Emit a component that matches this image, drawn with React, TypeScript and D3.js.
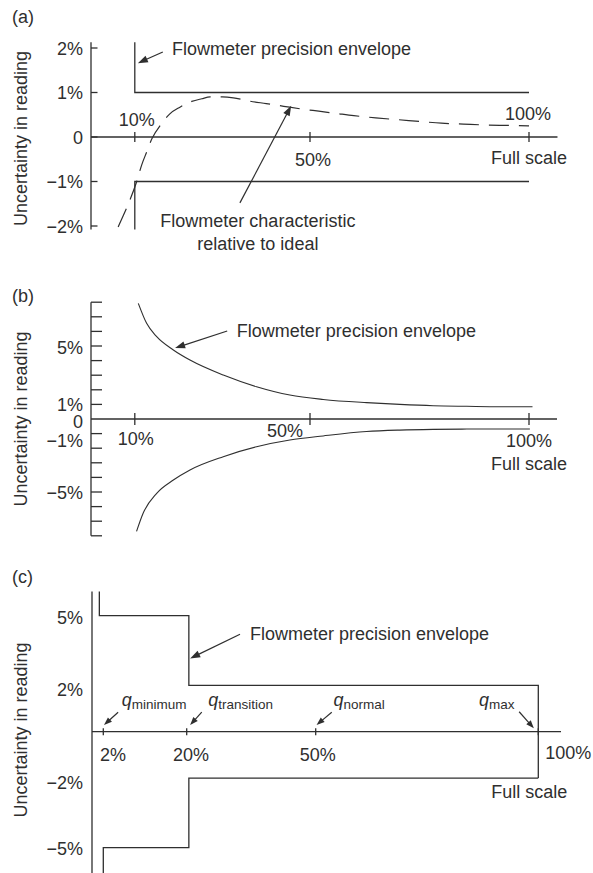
import React from 'react';
import * as d3 from 'd3';

const FONT = '"Liberation Sans", Arial, Helvetica, sans-serif';
const INK = '#2f2f2f';
const FS = 18;

// ---------- Panel (a) ----------
const aYTicks = [2, 1, 0, -1, -2];
const aYTickLabels = ['2%', '1%', '0', '−1%', '−2%'];
const aYAxisExtent = [-2.08, 2.13];
const aXTicks = [10, 50, 100];
const aXAxisEnd = 106.5;
const aEnvelopeUpper: [number, number][] = [[10, 2.13], [10, 1], [100, 1]];
const aEnvelopeLower: [number, number][] = [[10, -2.08], [10, -1], [100, -1]];
const aCharPct = [6.2, 7.4, 9.3, 10.4, 11.6, 12.7, 13.9, 16.1, 18, 20.3, 23, 25.3, 27.2, 30, 32.5, 36, 40, 44, 48, 52, 56, 60, 65, 70, 75, 80, 85, 90, 95, 100];
const aCharErr = [-2.02, -1.76, -1.31, -1.01, -0.62, -0.34, -0.04, 0.3, 0.52, 0.67, 0.8, 0.86, 0.9, 0.9, 0.88, 0.81, 0.75, 0.69, 0.63, 0.58, 0.53, 0.48, 0.43, 0.39, 0.35, 0.31, 0.29, 0.27, 0.26, 0.25];

// ---------- Panel (b) ----------
const bYTicks = [8, 7, 6, 5, 4, 3, 2, 1, -1, -2, -3, -4, -5, -6, -7, -8];
const bYLabels = ['5%', '1%', '0', '−1%', '−5%'];
const bYLabelValues = [5, 1, 0, -1, -5];
const bYLabelDy = [8, 7, 9, 13, 7];
const bYAxisExtent = [-8, 8];
const bXTicks = [10, 50, 100];
const bXAxisEnd = 106.4;
const bUpperPct = [10.8, 12.7, 15, 18.8, 22.6, 30.2, 37.8, 45.4, 53, 62.9, 70.5, 78.1, 85.8, 93.4, 100.8];
const bUpperErr = [7.92, 6.55, 5.64, 4.73, 4.04, 3.01, 2.21, 1.64, 1.34, 1.12, 1.0, 0.91, 0.87, 0.84, 0.84];
const bLowerPct = [10.4, 11.9, 15, 18.8, 22.6, 30.2, 37.8, 45.4, 53, 62.9, 70.5, 78.1, 85.8, 93.4, 100.2];
const bLowerErr = [-7.7, -6.46, -5.09, -4.18, -3.49, -2.58, -1.9, -1.44, -1.16, -0.86, -0.76, -0.71, -0.69, -0.68, -0.68];

// ---------- Panel (c) ----------
const cXDomain = [0, 2, 20, 50, 100];
const cYLabels = ['5%', '2%', '−2%', '−5%'];
const cYLabelValues = [5, 2, -2, -5];
const cYLabelDy = [8.5, 10.5, 11, 7.5];
const cXTicks = [2, 20, 50, 100];
const cXTickLabels = ['2%', '20%', '50%', '100%'];
const cYAxisExtent = [-6.3, 6.04];
const cXAxisEnd = 105.1;
const cEnvelopeUpper: [number, number][] = [[1.3, 6.04], [1.3, 5], [20.5, 5], [20.5, 2], [100, 2], [100, -2]];
const cEnvelopeLower: [number, number][] = [[100, -2], [20.5, -2], [20.5, -5], [2, -5], [2, -6.3]];
const cQNames = ['minimum', 'transition', 'normal', 'max'];
const cQTextPct = [6.0, 25.0, 54.0, 86.7];
const cQArrowTail: [number, number][] = [[5.2, 0.84], [23.5, 0.84], [53.6, 0.84], [95.7, 0.86]];
const cQArrowTip: [number, number][] = [[2.15, 0.29], [20.8, 0.29], [50.2, 0.29], [99.0, 0.15]];

function Arrow({ x1, y1, x2, y2, len = 10, half = 3.6 }: { x1: number; y1: number; x2: number; y2: number; len?: number; half?: number }) {
  const dx = x2 - x1;
  const dy = y2 - y1;
  const d = Math.hypot(dx, dy);
  const ux = dx / d;
  const uy = dy / d;
  const bx = x2 - ux * len;
  const by = y2 - uy * len;
  const pts = [
    [x2, y2],
    [bx - uy * half, by + ux * half],
    [bx + uy * half, by - ux * half],
  ];
  return (
    <g>
      <line x1={x1} y1={y1} x2={x2 - ux * len * 0.7} y2={y2 - uy * len * 0.7} stroke={INK} strokeWidth={1.2} />
      <polygon points={pts.map((p) => p.join(',')).join(' ')} fill={INK} />
    </g>
  );
}

function YTitle({ cy }: { cy: number }) {
  return (
    <text transform={`translate(27,${cy}) rotate(-90)`} textAnchor="middle" fontSize={FS} fill={INK}>
      Uncertainty in reading
    </text>
  );
}

export default function App() {
  // Panel (a) scales
  const xA = d3.scaleLinear().domain([0, 100]).range([91, 529]);
  const yA = d3.scaleLinear().domain([-2, 2]).range([226, 48]);
  // Panel (b)
  const xB = d3.scaleLinear().domain([0, 100]).range([91, 529]);
  const yB = d3.scaleLinear().domain([-8, 8]).range([535.8, 302.2]);
  // Panel (c)
  const xC = d3.scaleLinear().domain(cXDomain).range([92, 103.3, 186.7, 315.7, 538.3]);
  const yC = d3.scaleLinear().domain([-5, 5]).range([847.7, 615.7]);

  const lineA = d3.line<[number, number]>().x((d) => xA(d[0])).y((d) => yA(d[1]));
  const curveA = d3.line<[number, number]>().x((d) => xA(d[0])).y((d) => yA(d[1])).curve(d3.curveMonotoneX);
  const curveB = d3.line<[number, number]>().x((d) => xB(d[0])).y((d) => yB(d[1])).curve(d3.curveMonotoneX);
  const lineC = d3.line<[number, number]>().x((d) => xC(d[0])).y((d) => yC(d[1]));

  const charData = aCharPct.map((p, i) => [p, aCharErr[i]] as [number, number]);
  const bUpper = bUpperPct.map((p, i) => [p, bUpperErr[i]] as [number, number]);
  const bLower = bLowerPct.map((p, i) => [p, bLowerErr[i]] as [number, number]);

  const sw = 1.3;

  return (
    <svg width={593} height={873} style={{ position: 'absolute', left: 0, top: 0, background: '#fff' }} fontFamily={FONT}>
      <rect width={593} height={873} fill="#fff" />

      {/* ================= (a) ================= */}
      <text x={12} y={23} fontSize={FS} fill={INK}>(a)</text>
      <YTitle cy={138.5} />
      {/* axes */}
      <line x1={xA(0)} x2={xA(0)} y1={yA(aYAxisExtent[1])} y2={yA(aYAxisExtent[0])} stroke={INK} strokeWidth={sw} />
      <line x1={xA(0)} x2={xA(aXAxisEnd)} y1={yA(0)} y2={yA(0)} stroke={INK} strokeWidth={sw} />
      {aYTicks.map((t, i) => (
        <g key={'ay' + i}>
          <line x1={xA(0)} x2={xA(0) + 6.5} y1={yA(t)} y2={yA(t)} stroke={INK} strokeWidth={sw} />
          <text x={83} y={yA(t) + 6.5} textAnchor="end" fontSize={FS} fill={INK}>{aYTickLabels[i]}</text>
        </g>
      ))}
      {aXTicks.map((t, i) => (
        <line key={'ax' + i} x1={xA(t)} x2={xA(t)} y1={yA(0) - 5} y2={yA(0) + 5} stroke={INK} strokeWidth={sw} />
      ))}
      <text x={xA(10) + 2} y={yA(0) - 11} textAnchor="middle" fontSize={FS} fill={INK}>10%</text>
      <text x={xA(50) + 3} y={yA(0) + 29} textAnchor="middle" fontSize={FS} fill={INK}>50%</text>
      <text x={xA(100) - 1} y={yA(0) - 17} textAnchor="middle" fontSize={FS} fill={INK}>100%</text>
      <text x={xA(100)} y={yA(0) + 27} textAnchor="middle" fontSize={FS} fill={INK}>Full scale</text>
      {/* envelope */}
      <path d={lineA(aEnvelopeUpper) || ''} fill="none" stroke={INK} strokeWidth={sw} />
      <path d={lineA(aEnvelopeLower) || ''} fill="none" stroke={INK} strokeWidth={sw} />
      {/* characteristic */}
      <path d={curveA(charData) || ''} fill="none" stroke={INK} strokeWidth={1.2} strokeDasharray="20 10" />
      {/* annotations */}
      <text x={xA(18.5)} y={yA(1.84)} fontSize={FS} fill={INK}>Flowmeter precision envelope</text>
      <Arrow x1={xA(16.4)} y1={yA(1.91)} x2={xA(10.7)} y2={yA(1.66)} />
      <text x={xA(38.1)} y={yA(-2.02)} textAnchor="middle" fontSize={FS} fill={INK}>
        <tspan x={xA(38.1)}>Flowmeter characteristic</tspan>
        <tspan x={xA(38.1)} dy={23}>relative to ideal</tspan>
      </text>
      <Arrow x1={xA(34)} y1={yA(-1.48)} x2={xA(45.7)} y2={yA(0.7)} />

      {/* ================= (b) ================= */}
      <text x={12} y={302} fontSize={FS} fill={INK}>(b)</text>
      <YTitle cy={419} />
      <line x1={xB(0)} x2={xB(0)} y1={yB(bYAxisExtent[1])} y2={yB(bYAxisExtent[0])} stroke={INK} strokeWidth={sw} />
      <line x1={xB(0)} x2={xB(bXAxisEnd)} y1={yB(0)} y2={yB(0)} stroke={INK} strokeWidth={sw} />
      {bYTicks.map((t, i) => (
        <line key={'by' + i} x1={xB(0)} x2={xB(0) + 11} y1={yB(t)} y2={yB(t)} stroke={INK} strokeWidth={sw} />
      ))}
      {bYLabels.map((l, i) => (
        <text key={'byl' + i} x={83} y={yB(bYLabelValues[i]) + bYLabelDy[i]} textAnchor="end" fontSize={FS} fill={INK}>{l}</text>
      ))}
      {bXTicks.map((t, i) => (
        <line key={'bx' + i} x1={xB(t)} x2={xB(t)} y1={yB(0) - 6} y2={yB(0) + 6} stroke={INK} strokeWidth={sw} />
      ))}
      <text x={xB(10) + 1} y={yB(0) + 26} textAnchor="middle" fontSize={FS} fill={INK}>10%</text>
      <text x={xB(50) - 7} y={yB(0) + 18} textAnchor="end" fontSize={FS} fill={INK}>50%</text>
      <text x={xB(100)} y={yB(0) + 28} textAnchor="middle" fontSize={FS} fill={INK}>100%</text>
      <text x={xB(100)} y={yB(0) + 51} textAnchor="middle" fontSize={FS} fill={INK}>Full scale</text>
      <path d={curveB(bUpper) || ''} fill="none" stroke={INK} strokeWidth={1.1} />
      <path d={curveB(bLower) || ''} fill="none" stroke={INK} strokeWidth={1.1} />
      <text x={xB(33.3)} y={yB(5.64)} fontSize={FS} fill={INK}>Flowmeter precision envelope</text>
      <Arrow x1={xB(31.1)} y1={yB(6.03)} x2={xB(19.2)} y2={yB(4.86)} />

      {/* ================= (c) ================= */}
      <text x={12} y={583} fontSize={FS} fill={INK}>(c)</text>
      <YTitle cy={730} />
      <line x1={xC(0)} x2={xC(0)} y1={yC(cYAxisExtent[1])} y2={yC(cYAxisExtent[0])} stroke={INK} strokeWidth={sw} />
      <line x1={xC(0)} x2={xC(cXAxisEnd)} y1={yC(0)} y2={yC(0)} stroke={INK} strokeWidth={sw} />
      {cYLabels.map((l, i) => (
        <text key={'cyl' + i} x={83} y={yC(cYLabelValues[i]) + cYLabelDy[i]} textAnchor="end" fontSize={FS} fill={INK}>{l}</text>
      ))}
      {cXTicks.map((t, i) => (
        <line key={'cx' + i} x1={xC(t)} x2={xC(t)} y1={yC(0) - 3.5} y2={yC(0) + 3.5} stroke={INK} strokeWidth={sw} />
      ))}
      {cXTickLabels.slice(0, 3).map((l, i) => (
        <text key={'cxl' + i} x={xC(cXTicks[i]) + [9.7, 4.3, 2][i]} y={yC(0) + 29} textAnchor="middle" fontSize={FS} fill={INK}>{l}</text>
      ))}
      <text x={xC(100) + 7} y={yC(0) + 27.6} fontSize={FS} fill={INK}>{cXTickLabels[3]}</text>
      <text x={xC(100) - 9} y={yC(0) + 66.6} textAnchor="middle" fontSize={FS} fill={INK}>Full scale</text>
      <path d={lineC(cEnvelopeUpper) || ''} fill="none" stroke={INK} strokeWidth={sw} />
      <path d={lineC(cEnvelopeLower) || ''} fill="none" stroke={INK} strokeWidth={sw} />
      {cQNames.map((n, i) => (
        <g key={'q' + i}>
          <text x={xC(cQTextPct[i])} y={yC(1.11)} fontSize={FS} fill={INK}>
            <tspan fontStyle="italic">q</tspan>
            <tspan fontSize={13.5} dy={3}>{n}</tspan>
          </text>
          <Arrow x1={xC(cQArrowTail[i][0])} y1={yC(cQArrowTail[i][1])} x2={xC(cQArrowTip[i][0])} y2={yC(cQArrowTip[i][1])} len={8} half={3} />
        </g>
      ))}
      <text x={xC(34.7)} y={yC(3.95)} fontSize={FS} fill={INK}>Flowmeter precision envelope</text>
      <Arrow x1={xC(32.4)} y1={yC(4.2)} x2={xC(20.8)} y2={yC(3.16)} />
    </svg>
  );
}
